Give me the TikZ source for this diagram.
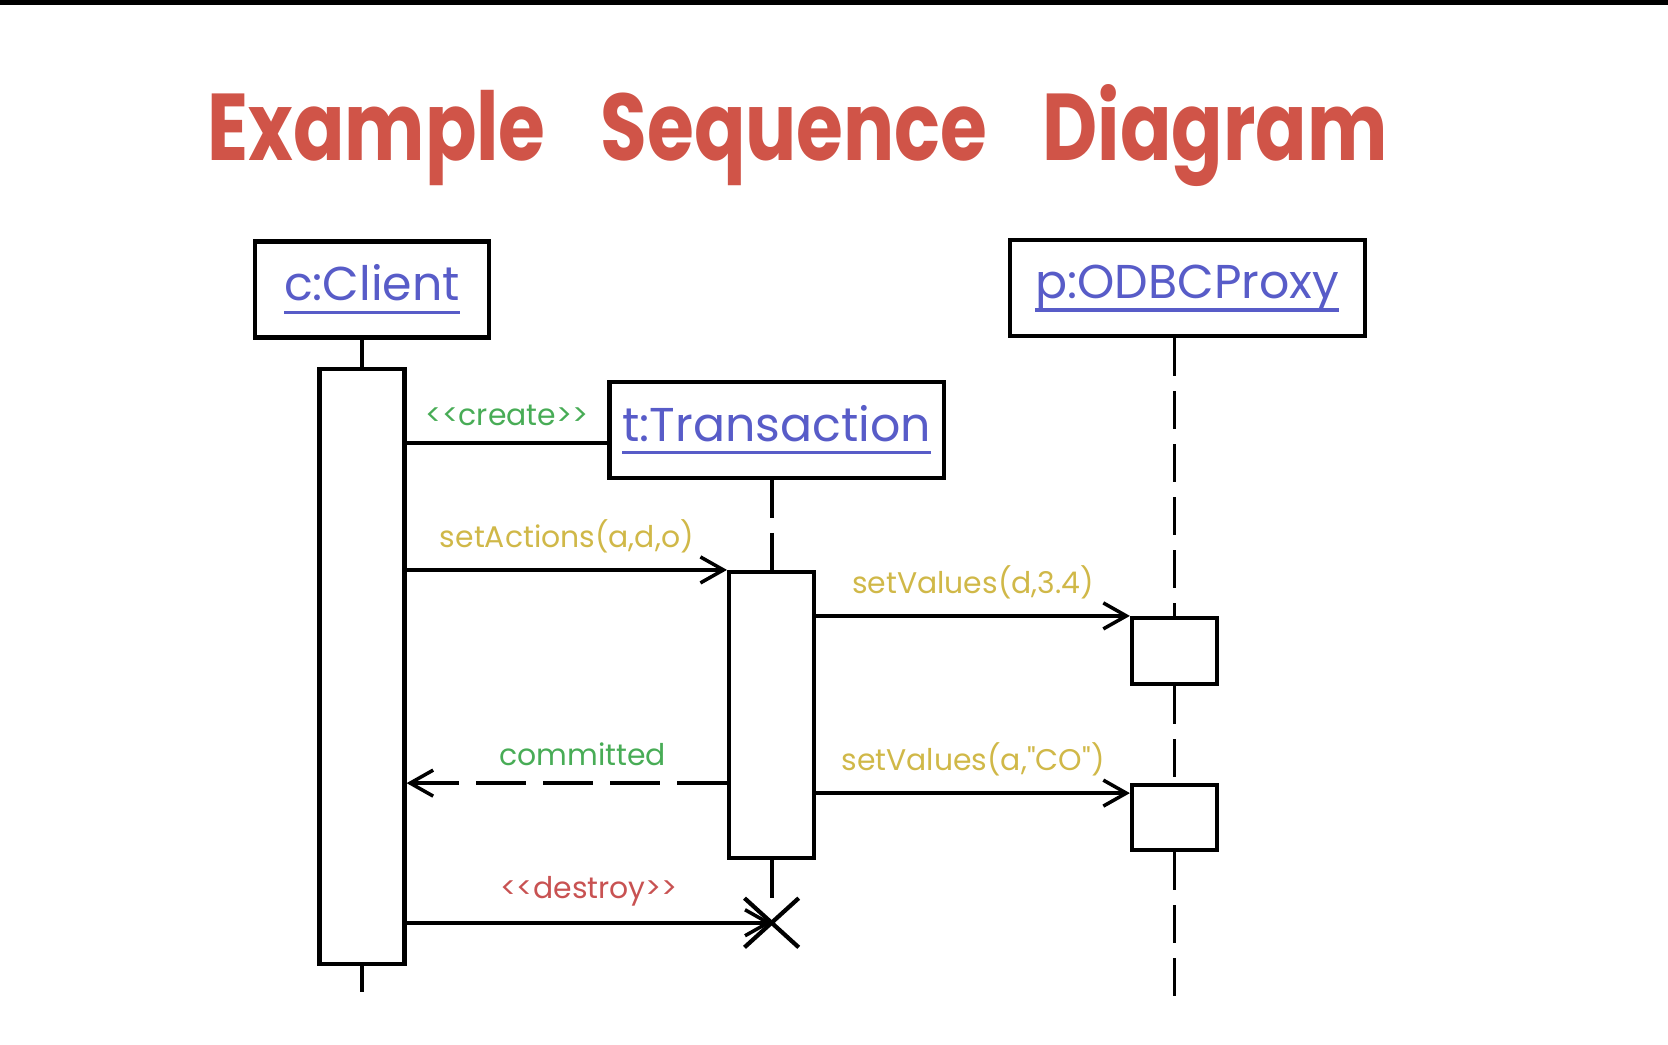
\documentclass[tikz,border=0pt]{standalone}
\usepackage{fontspec}
\usepackage{xcolor}
\usepackage{tikz}
\usetikzlibrary{arrows.meta, positioning, shapes.misc}

\newfontfamily\handfont{Poppins}
\newfontfamily\titlefont{Poppins}[FakeStretch=0.8]
\definecolor{titlered}{RGB}{208,84,72}
\definecolor{objblue}{RGB}{88,92,200}
\definecolor{msggreen}{RGB}{72,172,86}
\definecolor{msgyellow}{RGB}{208,184,72}
\definecolor{msgred}{RGB}{200,82,82}

% underlined object name
\newcommand{\objname}[1]{\setbox0\hbox{#1}\rlap{\rule[-0.13cm]{\wd0}{0.9pt}}\box0}

\begin{document}
\begin{tikzpicture}[
  head/.style={draw, line width=1.2pt, minimum height=0.96cm, inner sep=0pt,
               font=\handfont\fontsize{13.5}{16}\selectfont, text=objblue},
  actbar/.style={draw, fill=white, line width=1.2pt, minimum width=0.85cm, inner sep=0pt},
  life/.style={line width=1.1pt},
  lifedash/.style={line width=1.1pt, dash pattern=on 0.38cm off 0.15cm},
  msg/.style={-{Straight Barb[length=2.3mm, width=2.6mm]}, line width=1pt},
  lbl/.style={font=\handfont\fontsize{8.5}{10}\selectfont, above=1pt},
]
\useasboundingbox (0,0) rectangle (16.68,-10.44);
\fill[black] (0,0) rectangle (16.68,-0.05);

\node[font=\titlefont\bfseries\fontsize{27}{32}\selectfont, text=titlered, anchor=base] (title)
  at (7.975,-1.60) {Example\hspace{0.55cm}Sequence\hspace{0.55cm}Diagram};

\node[head, minimum width=2.34cm] (client) at (3.72,-2.894) {\objname{c:Client}};
\node[head, minimum width=3.34cm] (trans)  at (7.766,-4.298) {\objname{t:Transaction}};
\node[head, minimum width=3.55cm] (proxy)  at (11.872,-2.883) {\objname{p:ODBCProxy}};

\node[actbar, minimum height=5.95cm, below=0.27cm of client, xshift=-0.1cm] (clientbar) {};
\node[actbar, minimum height=2.86cm, below=0.9cm of trans, xshift=-0.05cm] (transbar) {};
\node[actbar, minimum height=0.66cm] (pact1) at (11.745,-6.51) {};
\node[actbar, minimum height=0.65cm, below=0.97cm of pact1] (pact2) {};
\node[draw, cross out, line width=1.2pt, minimum width=0.5cm, minimum height=0.45cm,
      below=0.38cm of transbar] (killed) {};

\coordinate[below=0.26cm of clientbar] (clientend);
\coordinate[below=1.5cm of pact2] (proxyend);
\coordinate (create) at ([yshift=-0.13cm]trans.west);
\coordinate (setval) at ([yshift=-0.1cm]pact2.north west);

% lifelines
\draw[life] (clientbar.north |- client.south) -- (clientbar.north);
\draw[life] (clientbar.south) -- (clientend);
\draw[lifedash] (transbar.north |- trans.south) -- (transbar.north);
\draw[lifedash] (transbar.south) -- (killed.north);
\draw[lifedash] (pact1.north |- proxy.south) -- (pact1.north);
\draw[lifedash] (pact1.south) -- (pact2.north);
\draw[lifedash] (pact2.south) -- (proxyend);

% messages
\draw[life] (clientbar.east |- create) -- (create)
  node[lbl, midway, text=msggreen] {<<create>>};
\draw[msg] (clientbar.east |- transbar.north) -- (transbar.north west)
  node[lbl, midway, text=msgyellow] {setActions(a,d,o)};
\draw[msg] (transbar.east |- pact1.north) -- (pact1.north west)
  node[lbl, midway, text=msgyellow] {setValues(d,3.4)};
\draw[msg] (transbar.east |- setval) -- (setval)
  node[lbl, midway, text=msgyellow] {setValues(a,"CO")};
\draw[msg, dash pattern=on 0.5cm off 0.17cm] (transbar.west |- pact2.north) -- (clientbar.east |- pact2.north)
  node[lbl, pos=0.45, text=msggreen] {committed};
\draw[msg] (clientbar.east |- killed) -- (killed.center)
  node[lbl, midway, text=msgred] {<<destroy>>};

\end{tikzpicture}
\end{document}
